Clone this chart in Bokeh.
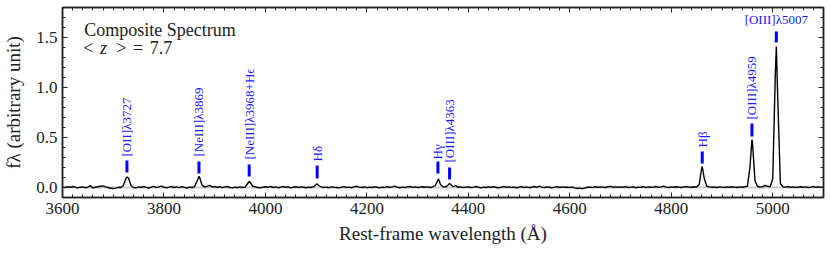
import numpy as np
from bokeh.plotting import figure
from bokeh.models import (LinearAxis, SingleIntervalTicker, Label, ColumnDataSource,
                          PrintfTickFormatter, CustomLabelingPolicy)
from bokeh.core.properties import value
from bokeh.embed import file_html
from bokeh.resources import INLINE

# ---------------- data ----------------
wave_start, wave_stop, wave_step = 3600, 5100, 5
flux_grid = [
    # 3600-3695
    0.005, 0.000, 0.008, 0.002, 0.010, 0.004, -0.004, 0.003, 0.006, -0.002,
    0.004, 0.018, -0.006, 0.003, 0.008, 0.012, 0.016, 0.006, 0.000, -0.008,
    # 3700-3795
    -0.010, -0.006, 0.002, 0.000, 0.020, 0.090, 0.095, 0.020, 0.000, -0.004,
    0.006, 0.000, 0.010, 0.002, -0.005, 0.004, 0.012, 0.000, 0.006, 0.014,
    # 3800-3895
    0.002, -0.004, 0.004, 0.010, 0.000, 0.006, -0.002, 0.008, 0.002, -0.006,
    0.004, 0.000, 0.006, 0.060, 0.105, 0.025, 0.004, 0.012, 0.022, 0.006,
    # 3900-3995
    0.010, 0.002, 0.008, -0.002, 0.006, 0.010, 0.000, -0.004, 0.004, -0.002,
    0.006, 0.000, 0.004, 0.040, 0.050, 0.012, 0.006, 0.000, -0.004, 0.004,
    # 4000-4095
    0.008, 0.002, 0.012, 0.000, 0.006, -0.002, 0.004, 0.010, 0.002, 0.006,
    -0.004, 0.002, 0.008, 0.000, 0.006, 0.002, -0.002, 0.004, 0.000, 0.008,
    # 4100-4195
    0.030, 0.020, 0.006, 0.000, 0.004, -0.002, 0.006, 0.002, 0.000, -0.004,
    0.004, 0.008, 0.000, 0.004, -0.002, 0.006, 0.012, 0.004, 0.000, 0.006,
    # 4200-4295
    -0.002, 0.004, 0.000, 0.006, 0.002, -0.004, 0.004, 0.000, 0.008, 0.002,
    0.006, 0.014, 0.002, -0.002, 0.004, 0.000, 0.006, 0.010, 0.002, 0.006,
    # 4300-4395
    0.000, 0.004, 0.008, 0.002, 0.006, 0.000, 0.006, 0.020, 0.075, 0.030,
    0.008, 0.004, 0.025, 0.030, 0.008, 0.018, 0.002, 0.006, 0.000, 0.004,
    # 4400-4495
    0.006, 0.000, 0.004, 0.010, 0.002, -0.004, 0.004, 0.000, 0.006, 0.002,
    0.008, 0.000, -0.002, 0.004, 0.010, 0.002, 0.006, 0.000, 0.004, -0.002,
    # 4500-4595
    0.004, 0.008, 0.000, 0.006, -0.002, 0.004, 0.010, 0.002, 0.014, 0.004,
    0.000, 0.006, 0.002, -0.004, 0.004, 0.008, 0.000, 0.006, 0.002, 0.004,
    # 4600-4695
    0.000, 0.004, -0.004, -0.010, -0.006, -0.012, -0.004, 0.002, 0.004, 0.000,
    0.008, 0.002, 0.006, 0.004, 0.000, 0.008, 0.012, 0.004, 0.006, 0.002,
    # 4700-4795
    0.006, 0.002, 0.008, 0.000, 0.004, 0.006, -0.002, 0.004, 0.002, 0.008,
    0.000, 0.006, 0.002, 0.004, 0.010, 0.002, 0.006, 0.014, 0.004, 0.000,
    # 4800-4895
    0.006, 0.002, 0.008, 0.004, 0.000, 0.006, 0.010, 0.004, 0.002, 0.008,
    0.004, 0.030, 0.195, 0.090, 0.012, 0.006, 0.002, 0.004, 0.000, 0.006,
    # 4900-4995
    0.004, 0.000, 0.006, 0.002, 0.008, 0.004, 0.000, 0.006, 0.002, 0.008,
    0.012, 0.200, 0.450, 0.065, 0.010, 0.004, 0.008, 0.020, 0.012, 0.006,
    # 5000-5100
    0.090, 1.130, 0.860, 0.040, 0.008, 0.004, 0.010, 0.002, 0.006, 0.000,
    0.004, 0.008, 0.002, 0.006, 0.000, 0.004, 0.010, 0.002, 0.006, 0.004,
    0.004,
]
peak_wave = [3727.5, 3869, 3968, 4102, 4341, 4363, 4861, 4959, 5007]
peak_flux = [0.105, 0.11, 0.06, 0.035, 0.088, 0.04, 0.21, 0.48, 1.41]

band_wave = [3600, 5100]
band_lo = [-0.01, -0.01]
band_hi = [0.01, 0.01]

line_wave = [3727, 3869, 3968, 4102, 4340, 4363, 4861, 4959, 5007]
mark_lo = [0.15, 0.14, 0.11, 0.09, 0.14, 0.08, 0.24, 0.51, 1.45]
mark_hi = [0.27, 0.26, 0.23, 0.22, 0.26, 0.20, 0.36, 0.64, 1.56]
vlabel_text = ["[OII]λ3727", "[NeIII]λ3869", "[NeIII]λ3968+Hϵ", "Hδ", "Hγ",
               "[OIII]λ4363", "Hβ", "[OIII]λ4959"]
vlabel_y = [0.31, 0.31, 0.28, 0.26, 0.28, 0.25, 0.40, 0.68]
top_label_text = "[OIII]λ5007"
top_label_y = 1.68

x_ticks_interval = 200
y_ticks_interval = 0.5

# ---------------- build spectrum ----------------
grid_wave = np.arange(wave_start, wave_stop + 1, wave_step).astype(float)
w_all = np.concatenate([grid_wave, np.array(peak_wave, float)])
f_all = np.concatenate([np.array(flux_grid, float), np.array(peak_flux, float)])
order = np.argsort(w_all, kind="stable")
spec = ColumnDataSource(dict(w=w_all[order], f=f_all[order]))

SERIF = "'Liberation Serif', serif"
BLUE = "#1a1aff"
INK = "#222222"

p = figure(width=829, height=249, x_range=(3600, 5100), y_range=(-0.1, 1.8),
           output_backend="svg", toolbar_location=None,
           min_border_left=58, min_border_right=6, min_border_top=7,
           min_border_bottom=52)
p.xgrid.visible = False
p.ygrid.visible = False
p.background_fill_color = "white"
p.border_fill_color = "white"
p.outline_line_color = INK
p.outline_line_width = 1.5

no_labels = CustomLabelingPolicy(code="""
    const all = [];
    for (const i of indices) all.push(i);
    for (const i of all) indices.unset(i);
    return indices;
""")


def style_axis(ax, ticker, show_labels):
    ax.ticker = ticker
    ax.major_tick_in = 5
    ax.major_tick_out = 0
    ax.minor_tick_in = 3
    ax.minor_tick_out = 0
    ax.axis_line_color = INK
    ax.axis_line_width = 1.5
    ax.major_tick_line_color = INK
    ax.minor_tick_line_color = INK
    ax.major_tick_line_width = 1
    ax.minor_tick_line_width = 1
    if show_labels:
        ax.major_label_text_font = SERIF
        ax.major_label_text_font_size = "17px"
        ax.major_label_text_color = INK
        ax.major_label_standoff = 5
    else:
        ax.major_label_policy = no_labels
        ax.major_label_text_font_size = "0px"
        ax.major_label_standoff = 0
        ax.axis_label = None


style_axis(p.xaxis[0], SingleIntervalTicker(interval=x_ticks_interval, num_minor_ticks=10), True)
style_axis(p.yaxis[0], SingleIntervalTicker(interval=y_ticks_interval, num_minor_ticks=5), True)
p.yaxis[0].formatter = PrintfTickFormatter(format="%.1f")
p.yaxis[0].major_label_orientation = "horizontal"

p.xaxis[0].axis_label = "Rest-frame wavelength (Å)"
p.xaxis[0].axis_label_text_font = SERIF
p.xaxis[0].axis_label_text_font_size = "19px"
p.xaxis[0].axis_label_text_font_style = "normal"
p.xaxis[0].axis_label_text_color = INK
p.xaxis[0].axis_label_standoff = 6

p.yaxis[0].axis_label = "fλ (arbitrary unit)"
p.yaxis[0].axis_label_text_font = SERIF
p.yaxis[0].axis_label_text_font_size = "19px"
p.yaxis[0].axis_label_text_font_style = "normal"
p.yaxis[0].axis_label_text_color = INK
p.yaxis[0].axis_label_standoff = 9

ax_top = LinearAxis()
style_axis(ax_top, SingleIntervalTicker(interval=x_ticks_interval, num_minor_ticks=10), False)
p.add_layout(ax_top, "above")
ax_right = LinearAxis()
style_axis(ax_right, SingleIntervalTicker(interval=y_ticks_interval, num_minor_ticks=5), False)
p.add_layout(ax_right, "right")

# gray band near zero
p.varea(x=band_wave, y1=band_lo, y2=band_hi, fill_color="#cccccc", fill_alpha=1.0)

# spectrum
p.line("w", "f", source=spec, line_color="black", line_width=1.4)

# line markers
p.segment(x0=line_wave, y0=mark_lo, x1=line_wave, y1=mark_hi,
          line_color="#0000ff", line_width=3)

# vertical labels
p.text(x=line_wave[:-1], y=vlabel_y, text=vlabel_text, angle=np.pi / 2,
       text_align="left", text_baseline="middle", text_color=BLUE,
       text_font=value(SERIF), text_font_size="13px")
p.text(x=[line_wave[-1]], y=[top_label_y], text=[top_label_text],
       text_align="center", text_baseline="middle", text_color=BLUE,
       text_font=value(SERIF), text_font_size="13px")

# annotations in top-left
p.add_layout(Label(x=3643, y=1.58, text="Composite Spectrum", text_font=SERIF,
                   text_font_size="18px", text_color=INK, text_baseline="alphabetic"))
for tx, txt, style in [(3641, "<", "normal"), (3674, "z", "italic"),
                       (3706, ">", "normal"), (3739, "=", "normal"),
                       (3772, "7.7", "normal")]:
    p.add_layout(Label(x=tx, y=1.40, text=txt, text_font=SERIF, text_font_size="18px",
                       text_font_style=style, text_color=INK,
                       text_baseline="alphabetic"))

open("out.html", "w").write(file_html(p, INLINE))
